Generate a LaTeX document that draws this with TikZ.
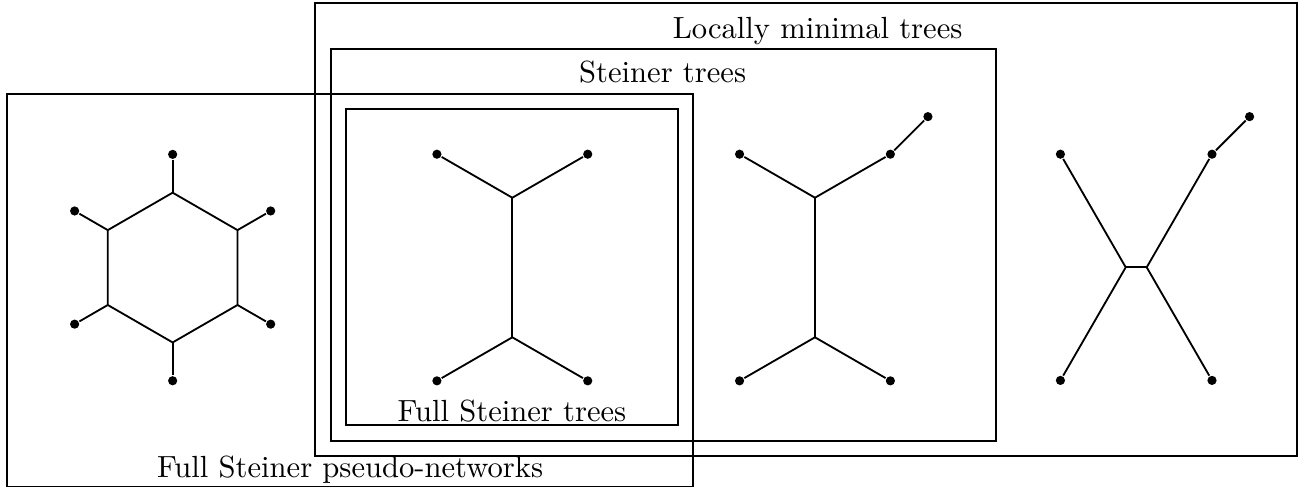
\documentclass[tikz,border=0pt]{standalone}
\usepackage{tikz}
\usetikzlibrary{calc}

\tikzset{
  terminal/.style={circle, fill, inner sep=0pt, minimum size=3pt},
  label/.style={anchor=base, inner sep=0pt},
}

\begin{document}
\begin{tikzpicture}[semithick]
  \useasboundingbox (0,0) rectangle (15.034,5.582);

  % the classes of networks
  \draw (3.62,0.345) rectangle (14.90,5.544);
  \node[label] (lmt) at (9.39,5.145) {Locally minimal trees};
  \draw (3.80,0.517) rectangle (11.44,5.022);
  \node[label] (st) at (7.61,4.636) {Steiner trees};
  \draw (3.97,0.701) rectangle (7.79,4.330);
  \node[label] (fst) at (5.88,0.738) {Full Steiner trees};
  \draw (0.077,-0.006) rectangle (7.959,4.499);
  \node[label] (fspn) at (4.02,0.095) {Full Steiner pseudo-networks};

  % hexagonal pseudo-network
  \coordinate (h) at (1.983,2.509);
  \foreach \a [count=\i] in {30,90,...,330} {
    \coordinate (v\i) at ([shift={(\a:0.86)}]h);
    \node[terminal] (p\i) at ([shift={(\a:1.3)}]h) {};
    \draw (v\i) -- (p\i);
  }
  \draw (v1) -- (v2) -- (v3) -- (v4) -- (v5) -- (v6) -- cycle;

  % full Steiner tree
  \coordinate (s1) at (5.884,3.311);
  \coordinate (s2) at (5.884,1.708);
  \node[terminal] (a1) at ([shift={(150:1)}]s1) {};
  \node[terminal] (a2) at ([shift={(30:1)}]s1) {};
  \node[terminal] (a3) at ([shift={(210:1)}]s2) {};
  \node[terminal] (a4) at ([shift={(-30:1)}]s2) {};
  \draw (a1) -- (s1) -- (a2);
  \draw (a3) -- (s2) -- (a4);
  \draw (s1) -- (s2);

  % Steiner tree, not full
  \coordinate (s3) at (9.36,3.311);
  \coordinate (s4) at (9.36,1.708);
  \node[terminal] (b1) at ([shift={(150:1)}]s3) {};
  \node[terminal] (b2) at ([shift={(30:1)}]s3) {};
  \node[terminal] (b3) at ([shift={(210:1)}]s4) {};
  \node[terminal] (b4) at ([shift={(-30:1)}]s4) {};
  \node[terminal] (b5) at ([shift={(45:0.61)}]b2) {};
  \draw (b1) -- (s3) -- (b2) -- (b5);
  \draw (b3) -- (s4) -- (b4);
  \draw (s3) -- (s4);

  % locally minimal tree
  \coordinate (s5) at (12.929,2.512);
  \coordinate (s6) at (13.170,2.512);
  \node[terminal] (c1) at ([shift={(120:1.5)}]s5) {};
  \node[terminal] (c2) at ([shift={(60:1.5)}]s6) {};
  \node[terminal] (c3) at ([shift={(240:1.5)}]s5) {};
  \node[terminal] (c4) at ([shift={(-60:1.5)}]s6) {};
  \node[terminal] (c5) at ([shift={(45:0.61)}]c2) {};
  \draw (c1) -- (s5) -- (c3);
  \draw (c5) -- (c2) -- (s6) -- (c4);
  \draw (s5) -- (s6);
\end{tikzpicture}
\end{document}
